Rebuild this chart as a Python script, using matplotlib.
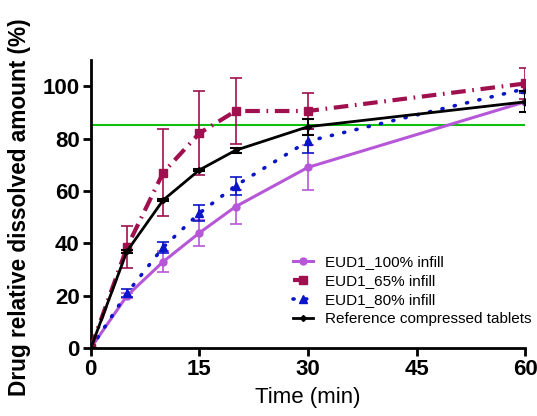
import numpy as np
import matplotlib.pyplot as plt

plt.rcParams['font.family'] = ['Liberation Sans', 'DejaVu Sans']

# time points (min)
time = [0, 5, 10, 15, 20, 30, 60]

# EUD1_100% infill
infill100 = [0, 20, 33, 44, 54, 69, 94]
infill100_err = [0, 1, 4, 5, 6.5, 8.5, 4]

# EUD1_65% infill
infill65 = [0, 38.5, 67, 82, 90.5, 90.5, 101]
infill65_err = [0, 8, 16.5, 16, 12.5, 7, 6]

# EUD1_80% infill
infill80 = [0, 21, 38.5, 51.5, 62, 79, 99]
infill80_err = [0, 1.5, 2, 3, 3.5, 4.5, 1.5]

# Reference compressed tablets
reference = [0, 37, 56.5, 68, 75.5, 84.5, 94]
reference_err = [0, 0.5, 0.5, 0.5, 1, 3, 4]

limit = 85

fig = plt.figure(figsize=(5.37, 4.16), dpi=100)
ax = fig.add_axes([0.169, 0.163, 0.809, 0.693])

ax.plot([0, 60], [limit, limit], color='#10c010', lw=1.5, zorder=1)

e1 = ax.errorbar(time, infill100, yerr=infill100_err, color='#b657d8', lw=2.2,
                 marker='o', ms=5, capsize=4, elinewidth=1.2, capthick=1.2,
                 label='EUD1_100% infill', zorder=3)
e2 = ax.errorbar(time, infill65, yerr=infill65_err, color='#a0104e', lw=3,
                 ls=(0, (3.5, 1.6, 0.4, 1.6)), marker='s', ms=6, capsize=4,
                 elinewidth=1.2, capthick=1.2, label='EUD1_65% infill', zorder=4)
e3 = ax.errorbar(time, infill80, yerr=infill80_err, color='#0a14c8', lw=2.6,
                 ls=(0, (0.3, 3.2)), marker='^', ms=6,
                 capsize=4, elinewidth=1.2, capthick=1.2,
                 label='EUD1_80% infill', zorder=3)
e3[0].set_dash_capstyle('round')
e4 = ax.errorbar(time, reference, yerr=reference_err, color='black', lw=2,
                 marker='D', ms=3, capsize=4, elinewidth=1.5, capthick=1.5,
                 label='Reference compressed tablets', zorder=5)

ax.set_xlim(0, 60)
ax.set_ylim(0, 110)
ax.set_xticks([0, 15, 30, 45, 60])
ax.set_yticks([0, 20, 40, 60, 80, 100])
for s in ['top', 'right']:
    ax.spines[s].set_visible(False)
for s in ['left', 'bottom']:
    ax.spines[s].set_linewidth(2)
ax.tick_params(width=2, length=6, labelsize=16, pad=2)
for lab in ax.get_xticklabels() + ax.get_yticklabels():
    lab.set_fontweight('bold')

ax.set_xlabel('Time (min)', fontsize=16)
ax.set_ylabel('Drug relative dissolved amount (%)', fontsize=16.3,
              fontweight='bold')
ax.yaxis.set_label_coords(-0.138, 0.49)
ax.xaxis.set_label_coords(0.5, -0.135)

ax.legend(handles=[e1[0], e2[0], e3[0], e4[0]],
          labels=['EUD1_100% infill', 'EUD1_65% infill', 'EUD1_80% infill',
                  'Reference compressed tablets'],
          loc='lower right', bbox_to_anchor=(1.04, 0.04), frameon=False,
          fontsize=11, handlelength=1.3, handletextpad=0.8, labelspacing=0.32,
          borderpad=0.2)

fig.savefig('out.png', dpi=100)
